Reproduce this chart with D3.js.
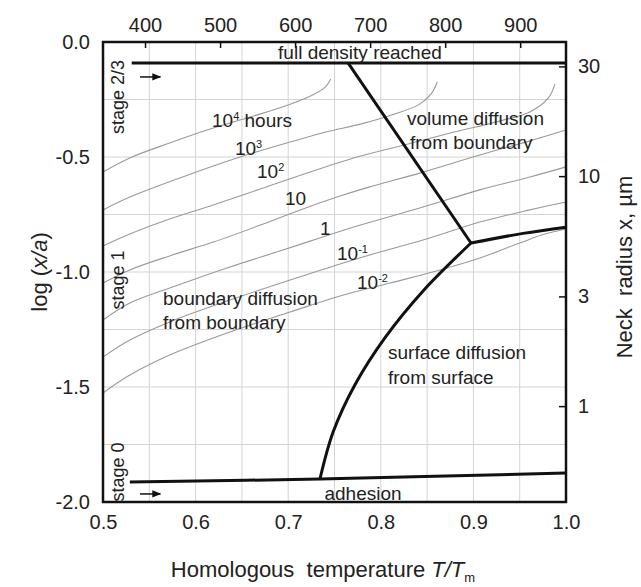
<!DOCTYPE html>
<html><head><meta charset="utf-8">
<script src="https://cdn.jsdelivr.net/npm/d3@7"></script>
<style>
body{margin:0;background:#fff}
svg text{font-family:"Liberation Sans",Arial,Helvetica,sans-serif;fill:#222}
</style>
</head><body>
<svg id="chart" width="641" height="587"></svg>
<script>
// ---------- data ----------
const xTickValues = [0.5, 0.6, 0.7, 0.8, 0.9, 1.0];          // T/Tm
const yTickValues = [0.0, -0.5, -1.0, -1.5, -2.0];            // log(x/a)
const topTickCelsius = [400, 500, 600, 700, 800, 900];        // °C
const rightTickMicron = [1, 3, 10, 30];                       // neck radius, µm
const meltingPointK = 1234;                                   // silver
const particleRadiusMicron = 38.3;                            // a, µm

const contourNames = ["1e4", "1e3", "1e2", "1e1", "1e0", "1e-1", "1e-2"];
const contour1e4 = [[0.500,-0.565],[0.529,-0.504],[0.572,-0.439],[0.619,-0.374],[0.659,-0.326],[0.697,-0.278],[0.724,-0.235],[0.740,-0.196],[0.746,-0.161]];
const contour1e3 = [[0.500,-0.730],[0.529,-0.674],[0.583,-0.591],[0.648,-0.500],[0.702,-0.435],[0.745,-0.387],[0.778,-0.357],[0.815,-0.313],[0.842,-0.270],[0.855,-0.222],[0.861,-0.174]];
const contour1e2 = [[0.500,-0.887],[0.529,-0.835],[0.572,-0.770],[0.619,-0.709],[0.673,-0.635],[0.727,-0.561],[0.778,-0.496],[0.821,-0.452],[0.875,-0.396],[0.929,-0.343],[0.961,-0.304],[0.981,-0.243],[0.988,-0.183]];
const contour1e1 = [[0.500,-1.048],[0.529,-0.991],[0.572,-0.930],[0.619,-0.870],[0.670,-0.796],[0.713,-0.730],[0.756,-0.670],[0.788,-0.630],[0.842,-0.570],[0.907,-0.491],[0.961,-0.430],[1.000,-0.383]];
const contour1e0 = [[0.500,-1.209],[0.529,-1.135],[0.572,-1.070],[0.637,-0.978],[0.691,-0.909],[0.734,-0.852],[0.778,-0.796],[0.842,-0.722],[0.907,-0.643],[0.961,-0.587],[1.000,-0.543]];
const contour1em1 = [[0.500,-1.370],[0.529,-1.296],[0.572,-1.217],[0.637,-1.122],[0.702,-1.035],[0.756,-0.965],[0.799,-0.913],[0.853,-0.852],[0.907,-0.783],[0.961,-0.730],[1.000,-0.696]];
const contour1em2 = [[0.500,-1.526],[0.529,-1.448],[0.572,-1.361],[0.637,-1.261],[0.702,-1.174],[0.756,-1.104],[0.810,-1.048],[0.864,-0.991],[0.907,-0.939],[0.950,-0.874],[0.977,-0.835],[1.000,-0.813]];

const fullDensityLine = [[0.531,-0.091],[1.0,-0.091]];
const volumeBoundaryLine = [[0.7646,-0.091],[0.8974,-0.874]];
const volumeSurfaceLine = [[0.8974,-0.874],[0.9536,-0.832],[1.0,-0.805]];
const surfaceBoundaryLine = [[0.7343,-1.900],[0.7486,-1.695],[0.7721,-1.490],[0.8048,-1.284],[0.8464,-1.079],[0.8974,-0.874]];
const adhesionLine = [[0.529,-1.913],[0.7343,-1.900],[1.0,-1.874]];

// ---------- layout ----------
const svg = d3.select("#chart");
const L = 103, R = 566, T = 42, B = 502;
const x = d3.scaleLinear().domain([0.5, 1.0]).range([L, R]);
const y = d3.scaleLinear().domain([0, -2]).range([T, B]);
const xTop = d3.scaleLinear()
  .domain([0.5 * meltingPointK - 273, 1.0 * meltingPointK - 273]).range([L, R]);
const yRight = d3.scaleLog()
  .domain([particleRadiusMicron * 0.01, particleRadiusMicron]).range([B, T]);

// grid
const grid = svg.append("g").attr("stroke", "#d4d4d4").attr("stroke-width", 1);
grid.selectAll(".gx").data(d3.range(0.55, 1.0, 0.05)).join("line")
  .attr("x1", d => x(d)).attr("x2", d => x(d)).attr("y1", T).attr("y2", B);
grid.selectAll(".gy").data(d3.range(-0.25, -2, -0.25)).join("line")
  .attr("y1", d => y(d)).attr("y2", d => y(d)).attr("x1", L).attr("x2", R);

// contours
const line = d3.line().x(d => x(d[0])).y(d => y(d[1])).curve(d3.curveCatmullRom.alpha(0.5));
const contours = [contour1e4, contour1e3, contour1e2, contour1e1, contour1e0, contour1em1, contour1em2];
svg.append("g").attr("fill", "none").attr("stroke", "#9a9a9a").attr("stroke-width", 1.1)
  .selectAll("path").data(contours).join("path").attr("d", line);

// contour labels
const contourLabelPos = [[0.6177,-0.370],[0.6425,-0.491],[0.6663,-0.591],[0.6965,-0.709],[0.7343,-0.839],[0.7527,-0.948],[0.7743,-1.074]];
const contourLabelText = [["10","4"," hours"],["10","3",""],["10","2",""],["10","",""],["1","",""],["10","-1",""],["10","-2",""]];
const lab = svg.append("g").attr("font-size", 19);
contourLabelText.forEach((t, i) => {
  const tx = lab.append("text").attr("x", x(contourLabelPos[i][0])).attr("y", y(contourLabelPos[i][1]));
  tx.append("tspan").text(t[0]);
  if (t[1]) tx.append("tspan").attr("dy", -7).attr("font-size", 11).text(t[1]);
  if (t[2]) tx.append("tspan").attr("dy", 7).text(t[2]);
});

// boundaries
const bline = d3.line().x(d => x(d[0])).y(d => y(d[1])).curve(d3.curveCatmullRom.alpha(0.5));
svg.append("g").attr("fill", "none").attr("stroke", "#111").attr("stroke-width", 3)
  .attr("stroke-linejoin", "round")
  .selectAll("path").data([fullDensityLine, volumeBoundaryLine, volumeSurfaceLine, surfaceBoundaryLine, adhesionLine])
  .join("path").attr("d", bline);

// frame
svg.append("rect").attr("x", L).attr("y", T).attr("width", R - L).attr("height", B - T)
  .attr("fill", "none").attr("stroke", "#111").attr("stroke-width", 2.5);

// axes
const fs = 20;
const fmt1 = d => d.toFixed(1);
svg.append("g").attr("transform", `translate(0,${B})`)
  .call(d3.axisBottom(x).tickValues(xTickValues).tickFormat(fmt1).tickSize(0).tickPadding(13));
svg.append("g").attr("transform", `translate(${L},0)`)
  .call(d3.axisLeft(y).tickValues(yTickValues).tickFormat(fmt1).tickSize(0).tickPadding(13));
svg.append("g").attr("transform", `translate(0,${T})`)
  .call(d3.axisBottom(xTop).tickValues(topTickCelsius).tickSize(6).tickFormat(""));
svg.append("g").attr("transform", `translate(0,${T})`)
  .call(d3.axisTop(xTop).tickValues(topTickCelsius).tickSize(0).tickPadding(10));
svg.append("g").attr("transform", `translate(${R},0)`)
  .call(d3.axisLeft(yRight).tickValues(rightTickMicron).tickSize(7).tickFormat(""));
svg.append("g").attr("transform", `translate(${R},0)`)
  .call(d3.axisRight(yRight).tickValues(rightTickMicron).tickSize(0).tickPadding(12).tickFormat(d => String(d)));
svg.selectAll(".domain").remove();
svg.selectAll(".tick line").attr("stroke", "#111").attr("stroke-width", 1.5);
svg.selectAll(".tick text").attr("font-size", fs).attr("font-family", null).attr("fill", "#222");

// titles
svg.append("text").attr("x", 323).attr("y", 577).attr("text-anchor", "middle").attr("font-size", 22)
  .call(t => { t.append("tspan").text("Homologous\u00a0 temperature ");
               t.append("tspan").attr("font-style", "italic").text("T/T");
               t.append("tspan").attr("font-size", 13).attr("dy", 5).text("m"); });
svg.append("text").attr("transform", `translate(47,${(T + B) / 2}) rotate(-90)`).attr("text-anchor", "middle").attr("font-size", 22)
  .call(t => { t.append("tspan").text("log (");
               t.append("tspan").attr("font-style", "italic").text("x/a");
               t.append("tspan").text(")"); });
svg.append("text").attr("transform", `translate(632,${(T + B) / 2 - 5}) rotate(-90)`).attr("text-anchor", "middle").attr("font-size", 22)
  .text("Neck\u00a0 radius x, \u00b5m");

// region labels
const regionLabels = [
  {t: "full density reached", p: [0.7775, -0.074], a: "middle"},
  {t: "volume diffusion", p: [0.8283, -0.361], a: "start"},
  {t: "from boundary", p: [0.8315, -0.465], a: "start"},
  {t: "boundary diffusion", p: [0.5648, -1.143], a: "start"},
  {t: "from boundary", p: [0.5648, -1.248], a: "start"},
  {t: "surface diffusion", p: [0.8078, -1.378], a: "start"},
  {t: "from surface", p: [0.8078, -1.487], a: "start"},
  {t: "adhesion", p: [0.7808, -1.991], a: "middle"}
];
svg.append("g").attr("font-size", 19).selectAll("text").data(regionLabels).join("text")
  .attr("x", d => x(d.p[0])).attr("y", d => y(d.p[1])).attr("text-anchor", d => d.a).text(d => d.t);

// stage labels
const stageLabels = [{t: "stage 2/3", v: -0.239}, {t: "stage 1", v: -1.035}, {t: "stage 0", v: -1.87}];
svg.append("g").attr("font-size", 18).selectAll("text").data(stageLabels).join("text")
  .attr("transform", d => `translate(${x(0.5) + 21},${y(d.v)}) rotate(-90)`).attr("text-anchor", "middle").text(d => d.t);

// arrows
svg.append("defs").append("marker").attr("id", "ah").attr("viewBox", "0 0 10 10").attr("refX", 9).attr("refY", 5)
  .attr("markerWidth", 6).attr("markerHeight", 6).attr("orient", "auto")
  .append("path").attr("d", "M0,1 L10,5 L0,9 z").attr("fill", "#111");
const arrows = [[[0.540, -0.152], [0.562, -0.152]], [[0.540, -1.965], [0.562, -1.965]]];
svg.append("g").selectAll("line").data(arrows).join("line")
  .attr("x1", d => x(d[0][0])).attr("y1", d => y(d[0][1])).attr("x2", d => x(d[1][0])).attr("y2", d => y(d[1][1]))
  .attr("stroke", "#111").attr("stroke-width", 1.5).attr("marker-end", "url(#ah)");
</script>
</body></html>
